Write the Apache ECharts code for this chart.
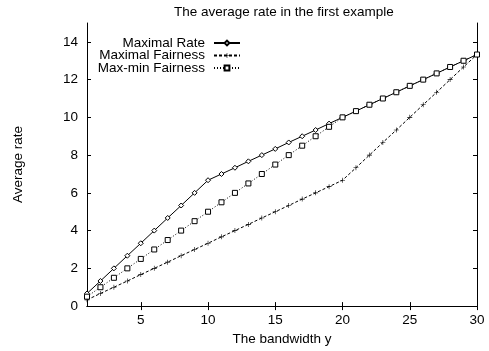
<!DOCTYPE html>
<html>
<head>
<meta charset="utf-8">
<script src="https://cdn.jsdelivr.net/npm/echarts@6/dist/echarts.min.js"></script>
<style>
  html, body { margin: 0; padding: 0; background: #fff; }
  #chart { width: 489px; height: 351px; }
</style>
</head>
<body>
<div id="chart"></div>
<script>
// Bandwidth values on the x axis
const bandwidth = [1, 2, 3, 4, 5, 6, 7, 8, 9, 10, 11, 12, 13, 14, 15,
                   16, 17, 18, 19, 20, 21, 22, 23, 24, 25, 26, 27, 28, 29, 30];

// Average rate for each allocation policy
const maximalRate = [0.67, 1.33, 2, 2.67, 3.33, 4, 4.67, 5.33, 6, 6.67,
                     7, 7.33, 7.67, 8, 8.33, 8.67, 9, 9.33, 9.67, 10,
                     10.33, 10.67, 11, 11.33, 11.67, 12, 12.33, 12.67, 13, 13.33];
const maximalFairness = [0.33, 0.67, 1, 1.33, 1.67, 2, 2.33, 2.67, 3, 3.33,
                         3.67, 4, 4.33, 4.67, 5, 5.33, 5.67, 6, 6.33, 6.67,
                         7.33, 8, 8.67, 9.33, 10, 10.67, 11.33, 12, 12.67, 13.33];
const maxMinFairness = [0.5, 1, 1.5, 2, 2.5, 3, 3.5, 4, 4.5, 5,
                        5.5, 6, 6.5, 7, 7.5, 8, 8.5, 9, 9.5, 10,
                        10.33, 10.67, 11, 11.33, 11.67, 12, 12.33, 12.67, 13, 13.33];

// Tick labels
const xTicks = [5, 10, 15, 20, 25, 30];
const yTicks = [0, 2, 4, 6, 8, 10, 12, 14];

const FONT = 'Liberation Sans, Arial, Helvetica, sans-serif';
const FS = 13.5;

const pairs = (ys) => bandwidth.map((x, i) => [x, ys[i]]);

const plusPath = 'path://M0,4.4H10V5.6H0Z M4.4,0H5.6V10H4.4Z';

const chart = echarts.init(document.getElementById('chart'), null, { renderer: 'canvas' });

const xBase = {
  type: 'value', min: 1, max: 30,
  axisLine: { show: true, lineStyle: { color: '#000', width: 1 } },
  axisTick: { show: true, inside: true, length: 4, customValues: xTicks, lineStyle: { color: '#000' } },
  splitLine: { show: false }
};
const yBase = {
  type: 'value', min: 0, max: 15,
  axisLine: { show: true, lineStyle: { color: '#000', width: 1 } },
  axisTick: { show: true, inside: true, length: 4, customValues: yTicks, lineStyle: { color: '#000' } },
  splitLine: { show: false }
};

chart.setOption({
  animation: false,
  backgroundColor: '#fff',
  title: {
    text: 'The average rate in the first example',
    left: 169, top: 0,
    textStyle: { fontFamily: FONT, fontSize: FS, fontWeight: 'normal', color: '#000' }
  },
  grid: { left: 87, right: 12, top: 23, bottom: 39 },
  legend: {
    orient: 'vertical',
    right: 248, top: 36, padding: 0,
    align: 'right',
    itemWidth: 26, itemHeight: 6, itemGap: -1.5,
    textStyle: { fontFamily: FONT, fontSize: FS, color: '#000', lineHeight: 13, padding: [0, 4, 0, 0] },
    data: ['Maximal Rate', 'Maximal Fairness', 'Max-min Fairness']
  },
  xAxis: [
    Object.assign({}, xBase, {
      position: 'bottom',
      name: 'The bandwidth y', nameLocation: 'middle', nameGap: 22,
      nameTextStyle: { fontFamily: FONT, fontSize: FS, color: '#000' },
      axisLabel: { show: true, customValues: xTicks, margin: 7, fontFamily: FONT, fontSize: FS, color: '#000' }
    }),
    Object.assign({}, xBase, { position: 'top', axisLabel: { show: false } })
  ],
  yAxis: [
    Object.assign({}, yBase, {
      position: 'left',
      name: 'Average rate', nameLocation: 'middle', nameGap: 62, nameRotate: 90,
      nameTextStyle: { fontFamily: FONT, fontSize: FS, color: '#000' },
      axisLabel: { show: true, customValues: yTicks, margin: 9, fontFamily: FONT, fontSize: FS, color: '#000' }
    }),
    Object.assign({}, yBase, { position: 'right', axisLabel: { show: false } })
  ],
  series: [
    {
      name: 'Maximal Rate', type: 'line', data: pairs(maximalRate),
      symbol: 'diamond', symbolSize: 5, showAllSymbol: true,
      lineStyle: { color: '#000', width: 1, type: 'solid' },
      itemStyle: { color: '#fff', borderColor: '#000', borderWidth: 1 }
    },
    {
      name: 'Maximal Fairness', type: 'line', data: pairs(maximalFairness),
      symbol: plusPath, symbolSize: 5, showAllSymbol: true,
      lineStyle: { color: '#000', width: 1, type: [3, 2] },
      itemStyle: { color: '#000', borderWidth: 0 }
    },
    {
      name: 'Max-min Fairness', type: 'line', data: pairs(maxMinFairness),
      symbol: 'rect', symbolSize: 5, showAllSymbol: true,
      lineStyle: { color: '#000', width: 1, type: [1, 2] },
      itemStyle: { color: '#fff', borderColor: '#000', borderWidth: 1 }
    }
  ]
});
</script>
</body>
</html>
